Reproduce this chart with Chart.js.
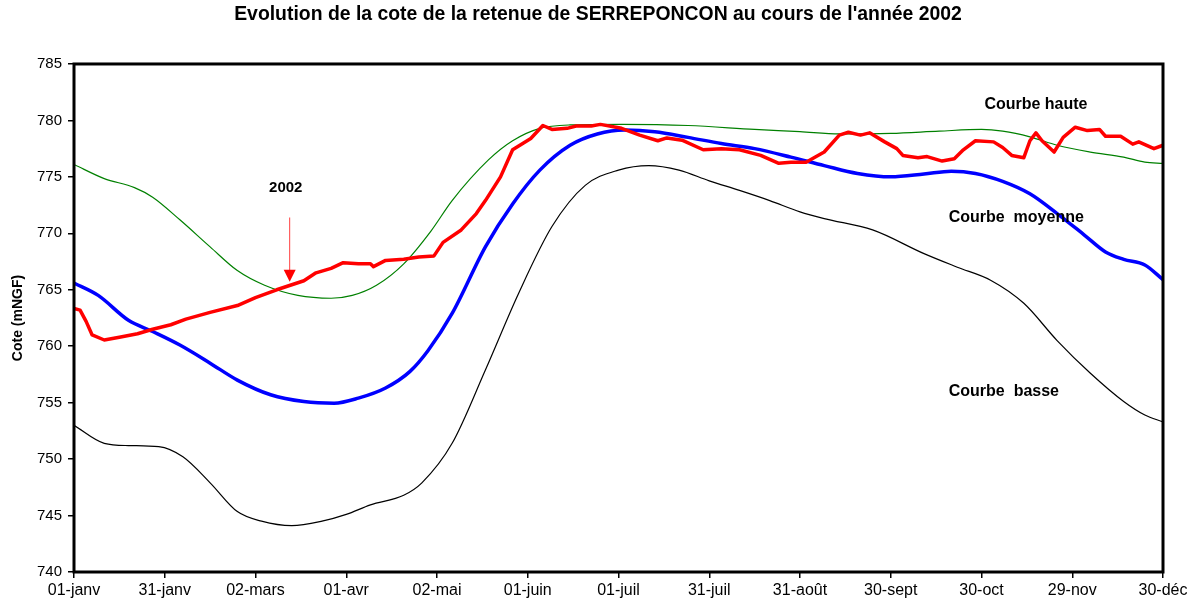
<!DOCTYPE html>
<html>
<head>
<meta charset="utf-8">
<script src="https://cdn.jsdelivr.net/npm/chart.js@4/dist/chart.umd.min.js"></script>
<style>
  html, body { margin: 0; padding: 0; background: #fff; }
  #wrap { width: 1196px; height: 605px; }
</style>
</head>
<body>
<div id="wrap"><canvas id="cote"></canvas></div>
<script>
// jours depuis le 01-janv
const tickDays = [0, 30, 60, 90, 120, 150, 180, 210, 240, 270, 300, 330, 360];
const tickLabels = ['01-janv', '31-janv', '02-mars', '01-avr', '02-mai', '01-juin', '01-juil',
                    '31-juil', '31-août', '30-sept', '30-oct', '29-nov', '30-déc'];

// courbe haute (vert)
const hauteDays = [0, 10, 20, 26, 35, 45, 54, 63, 74, 85, 92, 100, 109, 118, 125, 137, 145, 154, 164,
                   181, 203, 225, 240, 253, 270, 286, 300, 307, 316, 325, 336, 347, 354, 360];
const hauteValues = [776.1, 774.85, 774.05, 773.2, 771.2, 768.8, 766.7, 765.4, 764.5, 764.25, 764.5, 765.4,
                     767.3, 770.2, 772.9, 776.5, 778.2, 779.3, 779.6, 779.65, 779.55, 779.2, 779.0, 778.8,
                     778.85, 779.05, 779.2, 779.05, 778.55, 777.8, 777.2, 776.75, 776.3, 776.2];

// courbe moyenne (bleu)
const moyenneDays = [0, 8, 18, 26, 35, 45, 54, 65, 76, 86, 94, 103, 111, 117, 125, 136, 145, 154, 164,
                     173, 182, 192, 203, 214, 225, 237, 248, 259, 270, 281, 290, 298, 307, 316, 325, 334,
                     341, 347, 354, 360];
const moyenneValues = [765.6, 764.5, 762.3, 761.3, 760.1, 758.5, 757.0, 755.7, 755.1, 754.95, 755.4, 756.3,
                       757.75, 759.6, 762.9, 768.8, 772.6, 775.6, 777.8, 778.8, 779.15, 779.0, 778.5, 777.95,
                       777.5, 776.75, 776.0, 775.3, 775.0, 775.25, 775.5, 775.3, 774.6, 773.5, 771.75, 769.85,
                       768.35, 767.7, 767.2, 765.9];

// courbe basse (noir)
const basseDays = [0, 10, 18, 28, 36, 45, 54, 62, 72, 82, 90, 98, 109, 115, 125, 136, 147, 158, 169,
                   180, 190, 200, 210, 220, 230, 240, 248, 264, 281, 292, 303, 314, 325, 336, 347, 354, 360];
const basseValues = [753.0, 751.4, 751.2, 751.1, 750.2, 747.9, 745.35, 744.5, 744.1, 744.5, 745.1, 745.95,
                     746.8, 747.9, 751.4, 757.9, 764.7, 770.6, 774.25, 775.6, 776.0, 775.6, 774.65, 773.8,
                     772.9, 771.9, 771.3, 770.3, 768.2, 767.0, 765.85, 763.8, 760.5, 757.6, 755.1, 753.9, 753.3];

// cote 2002 (rouge)
const cote2002Days = [0, 2, 4, 6, 10, 15, 21, 26, 32, 37, 45, 54, 60, 67, 76, 80, 85, 89, 94, 98, 99, 103,
                      109, 114, 119, 122, 128, 133, 136, 141, 145, 151, 155, 158, 163, 166, 171, 174, 181,
                      187, 193, 196, 201, 208, 214, 220, 227, 233, 237, 242, 248, 253, 256, 260, 263, 268,
                      272, 274, 279, 282, 287, 291, 294, 298, 304, 307, 310, 314, 316, 318, 320, 324, 327,
                      331, 335, 339, 341, 346, 350, 352, 357, 360];
const cote2002Values = [763.35, 763.2, 762.2, 761.0, 760.55, 760.8, 761.1, 761.5, 761.9, 762.4, 763.0, 763.6,
                        764.3, 765.0, 765.8, 766.5, 766.9, 767.4, 767.3, 767.3, 767.05, 767.6, 767.7, 767.9,
                        768.0, 769.2, 770.3, 771.75, 772.9, 775.0, 777.4, 778.4, 779.55, 779.2, 779.3, 779.5,
                        779.5, 779.65, 779.3, 778.7, 778.2, 778.45, 778.25, 777.4, 777.5, 777.4, 776.9, 776.2,
                        776.3, 776.3, 777.2, 778.7, 778.95, 778.7, 778.9, 778.1, 777.5, 776.9, 776.7, 776.8,
                        776.4, 776.6, 777.4, 778.2, 778.1, 777.6, 776.9, 776.7, 778.2, 778.9, 778.2, 777.2,
                        778.5, 779.4, 779.1, 779.2, 778.6, 778.6, 777.9, 778.1, 777.5, 777.8];

const toPoints = (days, vals) => days.map((d, i) => ({ x: d, y: vals[i] }));

const FONT = "'Liberation Sans', Arial, sans-serif";

const annotations = {
  id: 'annotations',
  afterDatasetsDraw(chart) {
    const { ctx, chartArea, scales: { x, y } } = chart;
    ctx.save();
    // cadre de la zone de tracé
    ctx.strokeStyle = '#000';
    ctx.lineWidth = 3;
    ctx.strokeRect(chartArea.left, chartArea.top, chartArea.right - chartArea.left, chartArea.bottom - chartArea.top);

    ctx.fillStyle = '#000';
    ctx.textAlign = 'center';
    ctx.textBaseline = 'middle';
    ctx.font = 'bold 16px ' + FONT;
    ctx.fillText('Courbe haute', x.getPixelForValue(318), y.getPixelForValue(781.4));
    ctx.fillText('Courbe  moyenne', x.getPixelForValue(311.5), y.getPixelForValue(771.4));
    ctx.fillText('Courbe  basse', x.getPixelForValue(307.4), y.getPixelForValue(756.0));
    ctx.font = 'bold 15px ' + FONT;
    ctx.fillText('2002', x.getPixelForValue(70), y.getPixelForValue(774.0));

    // flèche
    const ax = x.getPixelForValue(71.3);
    const y0 = y.getPixelForValue(771.4);
    const y1 = y.getPixelForValue(765.7);
    ctx.strokeStyle = '#ff4040';
    ctx.lineWidth = 1;
    ctx.beginPath();
    ctx.moveTo(ax, y0);
    ctx.lineTo(ax, y1 - 10);
    ctx.stroke();
    ctx.fillStyle = '#ff0000';
    ctx.beginPath();
    ctx.moveTo(ax - 6, y1 - 12);
    ctx.lineTo(ax + 6, y1 - 12);
    ctx.lineTo(ax, y1);
    ctx.closePath();
    ctx.fill();
    ctx.restore();
  }
};

new Chart(document.getElementById('cote'), {
  type: 'line',
  data: {
    datasets: [
      { label: '2002', data: toPoints(cote2002Days, cote2002Values), borderColor: '#ff0000', borderWidth: 3.5, order: 1 },
      { label: 'Courbe moyenne', data: toPoints(moyenneDays, moyenneValues), borderColor: '#0000ff', borderWidth: 3.5, cubicInterpolationMode: 'monotone', order: 2 },
      { label: 'Courbe haute', data: toPoints(hauteDays, hauteValues), borderColor: '#008000', borderWidth: 1.2, cubicInterpolationMode: 'monotone', order: 3 },
      { label: 'Courbe basse', data: toPoints(basseDays, basseValues), borderColor: '#000000', borderWidth: 1.2, cubicInterpolationMode: 'monotone', order: 4 }
    ]
  },
  options: {
    responsive: true,
    maintainAspectRatio: false,
    animation: false,
    elements: { point: { radius: 0 }, line: { tension: 0, borderCapStyle: 'round', borderJoinStyle: 'round' } },
    layout: { padding: 0 },
    plugins: {
      legend: { display: false },
      tooltip: { enabled: false },
      title: {
        display: true,
        text: "Evolution de la cote de la retenue de SERREPONCON au cours de l'année 2002",
        color: '#000',
        font: { family: FONT, size: 19.4, weight: 'bold' },
        padding: { top: 3.4, bottom: 37.3 }
      }
    },
    scales: {
      x: {
        type: 'linear',
        min: 0,
        max: 360,
        afterBuildTicks: (axis) => { axis.ticks = tickDays.map(v => ({ value: v })); },
        afterFit: (axis) => { axis.height = 33; },
        ticks: {
          autoSkip: false,
          maxRotation: 0,
          color: '#000',
          padding: 3,
          font: { family: FONT, size: 16 },
          callback: (v, i) => tickLabels[i]
        },
        grid: { drawOnChartArea: false, drawTicks: true, tickLength: 6, color: '#000', lineWidth: 1.5 },
        border: { display: false }
      },
      y: {
        min: 740,
        max: 785,
        afterFit: (axis) => { axis.width = 74; },
        ticks: { stepSize: 5, color: '#000', padding: 6, font: { family: FONT, size: 15 } },
        grid: { drawOnChartArea: false, drawTicks: true, tickLength: 6, color: '#000', lineWidth: 1.5 },
        border: { display: false },
        title: {
          display: true,
          text: 'Cote (mNGF)',
          color: '#000',
          font: { family: FONT, size: 14, weight: 'bold' },
          padding: { top: 10, bottom: 0 }
        }
      },
      // marge droite vide, le titre reste centré sur toute la largeur
      marge: {
        position: 'right',
        display: true,
        ticks: { display: false },
        grid: { display: false },
        border: { display: false },
        afterFit: (axis) => { axis.width = 33; }
      }
    }
  },
  plugins: [annotations]
});
</script>
</body>
</html>
